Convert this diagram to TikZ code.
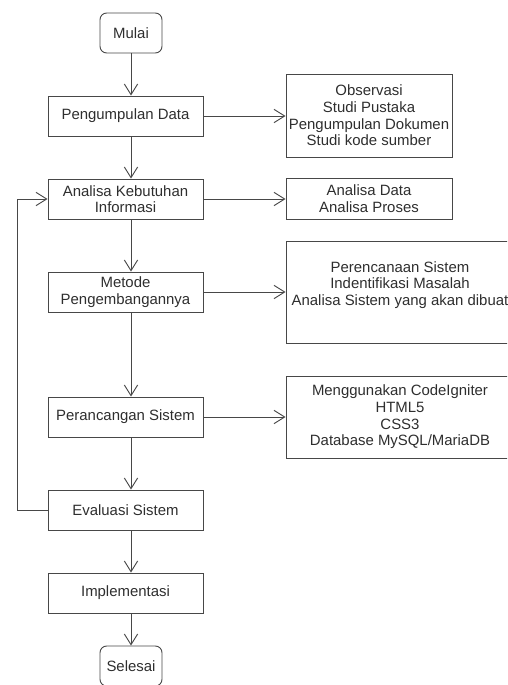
\documentclass[tikz,border=0pt]{standalone}
\usepackage{fontspec}
\setmainfont{Liberation Sans}
\usetikzlibrary{arrows.meta}

\tikzset{
  line/.style={draw=black!72, line width=0.7pt},
  arr/.style={line, -{Straight Barb[length=8pt,width=10pt,line width=0.7pt]}},
  procbox/.style={line, rectangle, align=center, inner sep=0pt,
    font=\fontsize{11.2pt}{12.5pt}\selectfont, text=black!82},
  termbox/.style={procbox, rounded corners=5pt,
    minimum width={62*0.75pt}, minimum height={40*0.75pt}},
  flowbox/.style={procbox, minimum width={155*0.75pt}, minimum height={40*0.75pt}},
}

\begin{document}
\begin{tikzpicture}[x=0.75pt, y=-0.75pt]
  \useasboundingbox (0,0) rectangle (507,685);
  \clip (0,0) rectangle (507,685);

  % main column
  \node[termbox] (mulai) at (131,33) {Mulai};
  \node[flowbox] (pd) at (125.5,116) {Pengumpulan Data};
  \node[flowbox] (akb) at (125.5,199) {Analisa Kebutuhan\\Informasi};
  \node[flowbox] (mp) at (125.5,292) {Metode\\Pengembangannya};
  \node[flowbox] (ps) at (125.5,417) {Perancangan Sistem};
  \node[flowbox] (es) at (125.5,510) {Evaluasi Sistem};
  \node[flowbox] (im) at (125.5,593) {Implementasi};
  \node[termbox] (sel) at (131,666) {Selesai};

  % side notes
  \node[procbox, minimum width={166*0.75pt}, minimum height={83*0.75pt}] (r1) at (369,115.5)
    {Observasi\\Studi Pustaka\\Pengumpulan Dokumen\\Studi kode sumber};
  \node[procbox, minimum width={166*0.75pt}, minimum height={41*0.75pt}] (r2) at (369,198.5)
    {Analisa Data\\Analisa Proses};
  \node[procbox, minimum width={228*0.75pt}, minimum height={102*0.75pt}] (r3) at (400,292) {};
  \node[align=center, font=\fontsize{11.2pt}{12.5pt}\selectfont, text=black!82] (r3t) at (400,285)
    {Perencanaan Sistem\\Indentifikasi Masalah\\Analisa Sistem yang akan dibuat};
  \node[procbox, minimum width={228*0.75pt}, minimum height={82*0.75pt}] (r4) at (400,417)
    {Menggunakan CodeIgniter\\HTML5\\CSS3\\Database MySQL/MariaDB};

  % vertical flow
  \draw[arr] (mulai.south) -- (mulai.south |- pd.north);
  \draw[arr] (mulai.south |- pd.south) -- (mulai.south |- akb.north);
  \draw[arr] (mulai.south |- akb.south) -- (mulai.south |- mp.north);
  \draw[arr] (mulai.south |- mp.south) -- (mulai.south |- ps.north);
  \draw[arr] (mulai.south |- ps.south) -- (mulai.south |- es.north);
  \draw[arr] (mulai.south |- es.south) -- (mulai.south |- im.north);
  \draw[arr] (mulai.south |- im.south) -- (sel.north);

  % side arrows
  \draw[arr] (pd.east) -- (pd.east -| r1.west);
  \draw[arr] (akb.east) -- (akb.east -| r2.west);
  \draw[arr] (mp.east) -- (mp.east -| r3.west);
  \draw[arr] (ps.east) -- (ps.east -| r4.west);

  % feedback loop
  \coordinate (lp) at (17,0);
  \draw[arr] (es.west) -- (es.west -| lp) -- (akb.west -| lp) -- (akb.west);
\end{tikzpicture}
\end{document}
